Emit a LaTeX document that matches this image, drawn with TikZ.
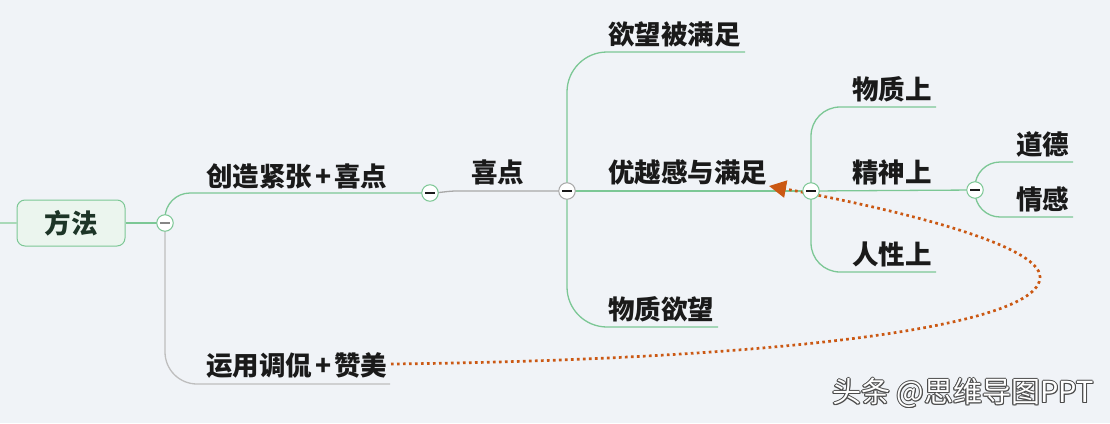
\documentclass[tikz,border=0pt]{standalone}
\usepackage{fontspec}
\newfontfamily\cjk{Noto Sans CJK SC}
\usetikzlibrary{arrows.meta}
\definecolor{bgc}{HTML}{F0F3F7}
\definecolor{grn}{HTML}{7CC795}
\definecolor{lgrn}{HTML}{A9D9B8}
\definecolor{boxfill}{HTML}{EBF5EE}
\definecolor{gry}{HTML}{A8A8A8}
\definecolor{lgry}{HTML}{BEBEBE}
\definecolor{txt}{HTML}{1A1A1A}
\definecolor{roottxt}{HTML}{1D3527}
\definecolor{org}{HTML}{CB5813}
\newcommand{\plusw}{\kern3pt+\kern3pt}
\tikzset{
  lbl/.style={anchor=west,inner sep=0pt,text=txt,font=\cjk\bfseries\fontsize{26.5}{30}\selectfont},
  gline/.style={draw=grn,line width=1.3pt},
  grline/.style={draw=gry,line width=1.3pt},
  togg/.style={circle,draw=grn,fill=white,line width=1pt,minimum size=16.5pt,inner sep=0pt},
  toggy/.style={togg,draw=gry},
  minus/.style={draw=txt,line width=1.3pt},
  wmfont/.style={anchor=west,inner sep=0pt,font=\cjk\fontsize{29}{32}\selectfont},
}
\begin{document}
\begin{tikzpicture}[x=1pt,y=-1pt]
\fill[bgc] (0,0) rectangle (1110,423);
\useasboundingbox (0,0) rectangle (1110,423);

% root
\node[draw=grn,fill=boxfill,rounded corners=8pt,line width=1pt,minimum width=108pt,minimum height=46pt,inner sep=0pt,
      font=\cjk\bfseries\fontsize{26.5}{30}\selectfont,text=roottxt] (root) at (71,223) {方法};
\coordinate (lft) at (0,223);
\draw[draw=lgrn,line width=1.3pt] (lft) -- (root.west);

% toggle positions
\coordinate (c1) at (165,223);
\coordinate (c2) at (430,193);
\coordinate (c3) at (567,191);
\coordinate (c4) at (811,191);
\coordinate (c5) at (975,190);

% line ends
\coordinate (e_yun) at (390,384);
\coordinate (e_yw) at (745,52);
\coordinate (e_wzyw) at (718,327);
\coordinate (e_wzs) at (936,107);
\coordinate (e_rxs) at (936,272);
\coordinate (e_dd) at (1073,162);
\coordinate (e_qg) at (1073,217);

% lines
\draw[gline] (root.east) -- (c1);
\draw[gline,rounded corners=25pt] (c1) |- (c2);
\draw[draw=lgry,line width=1.3pt,rounded corners=32pt] (c1) |- (e_yun);
\draw[grline] (c2) to[out=0,in=180] ([xshift=-110pt]c3) -- (c3);
\draw[gline,rounded corners=40pt] (c3) |- (e_yw);
\draw[gline] (c3) -- (c4);
\draw[gline,rounded corners=40pt] (c3) |- (e_wzyw);
\draw[gline,rounded corners=29pt] (c4) |- (e_wzs);
\draw[gline] (c4) -- (c5);
\draw[gline,rounded corners=29pt] (c4) |- (e_rxs);
\draw[gline,rounded corners=25pt] (c5) |- (e_dd);
\draw[gline,rounded corners=25pt] (c5) |- (e_qg);

% labels
\node[lbl] (t1) at (206,176) {创造紧张\plusw 喜点};
\node[lbl] (t2) at (206,366) {运用调侃\plusw 赞美};
\node[lbl] (t3) at (471,172) {喜点};
\node[lbl] (t4) at (608,34) {欲望被满足};
\node[lbl] (t5) at (608,172) {优越感与满足};
\node[lbl] (t6) at (608,309) {物质欲望};
\node[lbl] (t7) at (852,89) {物质上};
\node[lbl] (t8) at (852,172) {精神上};
\node[lbl] (t9) at (852,254) {人性上};
\node[lbl] (t10) at (1016,144) {道德};
\node[lbl] (t11) at (1016,199) {情感};

% dotted relation arrow
\coordinate (a1) at (391,364);
\coordinate (a2) at (769,186);
\draw[draw=org,line width=2.7pt,line cap=butt,dash pattern=on 2.7pt off 3.3pt,
      -{Triangle[length=17pt,width=17pt,fill=org]}]
  (a1) .. controls (750,360) and (1040,330) .. (1040,277)
       .. controls (1040,245) and (900,210) .. (a2);

% toggles
\node[togg] (k1) at (c1) {};
\draw[draw=gry!80!black,line width=2pt] ([xshift=-5pt]k1.center) -- ([xshift=5pt]k1.center);
\node[togg] (k2) at (c2) {};
\node[toggy] (k3) at (c3) {};
\node[togg] (k4) at (c4) {};
\node[togg] (k5) at (c5) {};
\foreach \k in {k2,k3,k4,k5}{
  \draw[minus] ([xshift=-5pt]\k.center) -- ([xshift=5pt]\k.center);
}

% watermark (white text with dark outline)
\foreach \dx/\dy in {-0.9/0,0.9/0,0/-0.9,0/0.9,1.2/1.2,0.7/-0.7,-0.7/0.7,-0.7/-0.7}{
  \node[wmfont,text=black!70] at (832+\dx,393+\dy) {头条 @思维导图PPT};
}
\node[wmfont,text=white] (wm) at (832,393) {头条 @思维导图PPT};
\end{tikzpicture}
\end{document}
